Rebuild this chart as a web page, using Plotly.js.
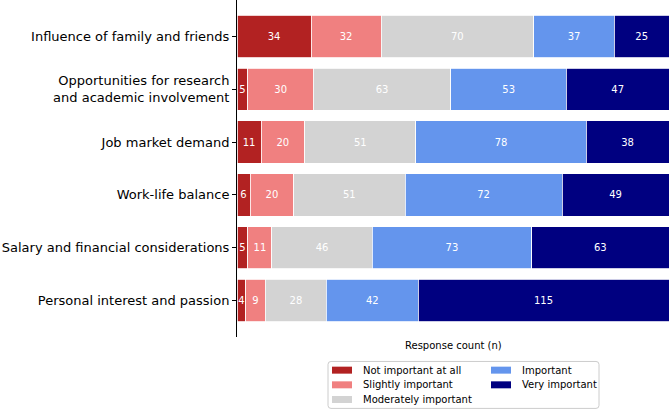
<!DOCTYPE html>
<html>
<head>
<meta charset="utf-8">
<script src="https://cdn.plot.ly/plotly-3.0.1.min.js"></script>
<style>html,body{margin:0;padding:0;background:#fff;}#chart{width:669px;height:411px;}</style>
</head>
<body>
<div id="chart"></div>
<script>
// ---- data ----
const categories = [
  "Influence of family and friends",
  "Opportunities for research<br>and academic involvement",
  "Job market demand",
  "Work-life balance",
  "Salary and financial considerations",
  "Personal interest and passion"
];
const seriesNames = ["Not important at all", "Slightly important", "Moderately important", "Important", "Very important"];
const notImportant      = [34, 5, 11, 6, 5, 4];
const slightlyImportant = [32, 30, 20, 20, 11, 9];
const moderately        = [70, 63, 51, 51, 46, 28];
const important         = [37, 53, 78, 72, 73, 42];
const veryImportant     = [25, 47, 38, 49, 63, 115];
const xTitle = "Response count (n)";

const seriesValues = [notImportant, slightlyImportant, moderately, important, veryImportant];
const colors = ["#b22222", "#f08080", "#d3d3d3", "#6495ed", "#000080"];

const traces = seriesValues.map((vals, i) => ({
  type: "bar",
  orientation: "h",
  name: seriesNames[i],
  y: categories,
  x: vals,
  width: 0.8,
  text: vals.map(String),
  textposition: "inside",
  insidetextanchor: "middle",
  textangle: 0,
  constraintext: "none",
  cliponaxis: false,
  textfont: {color: "#ffffff", size: 10, family: "DejaVu Sans"},
  marker: {color: colors[i], line: {color: "#ffffff", width: 0.8}},
  hoverinfo: "x+name",
  showlegend: false
}));

// ---- plot geometry (pixels) ----
const W = 669, H = 411;
const L = 237, T = 0, PW = W - L, PH = 337.5;
const px = x => (x - L) / PW;
const py = y => 1 - (y - T) / PH;

// rounded legend frame
function roundedRect(x0, y0, x1, y1, r) {
  const X = v => px(v), Y = v => py(v);
  return `M${X(x0 + r)},${Y(y0)} L${X(x1 - r)},${Y(y0)} Q${X(x1)},${Y(y0)} ${X(x1)},${Y(y0 + r)} ` +
         `L${X(x1)},${Y(y1 - r)} Q${X(x1)},${Y(y1)} ${X(x1 - r)},${Y(y1)} ` +
         `L${X(x0 + r)},${Y(y1)} Q${X(x0)},${Y(y1)} ${X(x0)},${Y(y1 - r)} ` +
         `L${X(x0)},${Y(y0 + r)} Q${X(x0)},${Y(y0)} ${X(x0 + r)},${Y(y0)} Z`;
}
const shapes = [{
  type: "path", xref: "paper", yref: "paper",
  path: roundedRect(328, 362, 599, 409, 3),
  line: {color: "#cccccc", width: 1}, fillcolor: "#ffffff"
}];
const annotations = [];
const colSwatchX = [332, 491];
const colTextX = [361, 520];
const rowY = [370.7, 385.4, 400.1];
seriesNames.forEach((name, i) => {
  const col = i < 3 ? 0 : 1;
  const row = i < 3 ? i : i - 3;
  const cy = rowY[row];
  shapes.push({
    type: "rect", xref: "paper", yref: "paper",
    x0: px(colSwatchX[col]), x1: px(colSwatchX[col] + 20),
    y0: py(cy - 3.5), y1: py(cy + 3.5),
    line: {width: 0}, fillcolor: colors[i]
  });
  annotations.push({
    xref: "paper", yref: "paper",
    x: px(colTextX[col]), y: py(cy),
    xanchor: "left", yanchor: "middle",
    text: name, showarrow: false,
    font: {family: "DejaVu Sans", size: 10, color: "#000"}
  });
});
annotations.push({
  xref: "paper", yref: "paper",
  x: px(453), y: py(346),
  xanchor: "center", yanchor: "middle",
  text: xTitle, showarrow: false,
  font: {family: "DejaVu Sans", size: 10, color: "#000"}
});

const layout = {
  width: W, height: H,
  margin: {l: L, r: 0, t: T, b: H - PH, pad: 0},
  barmode: "stack",
  bargap: 0.2,
  showlegend: false,
  paper_bgcolor: "#ffffff",
  plot_bgcolor: "#ffffff",
  font: {family: "DejaVu Sans", color: "#000"},
  uniformtext: {mode: "show", minsize: 10},
  xaxis: {
    range: [0, 198],
    showticklabels: false, ticks: "", showgrid: false, zeroline: false, showline: false,
    fixedrange: true
  },
  yaxis: {
    type: "category",
    categoryorder: "array", categoryarray: categories,
    range: [5.69, -0.69],
    showline: true, linecolor: "#000", linewidth: 1,
    ticks: "outside", ticklen: 4, tickwidth: 1, tickcolor: "#000",
    showgrid: false, zeroline: false,
    tickfont: {family: "DejaVu Sans", size: 13, color: "#000"},
    automargin: false, fixedrange: true
  },
  shapes: shapes,
  annotations: annotations
};

Plotly.newPlot("chart", traces, layout, {displayModeBar: false, staticPlot: true});
</script>
</body>
</html>
